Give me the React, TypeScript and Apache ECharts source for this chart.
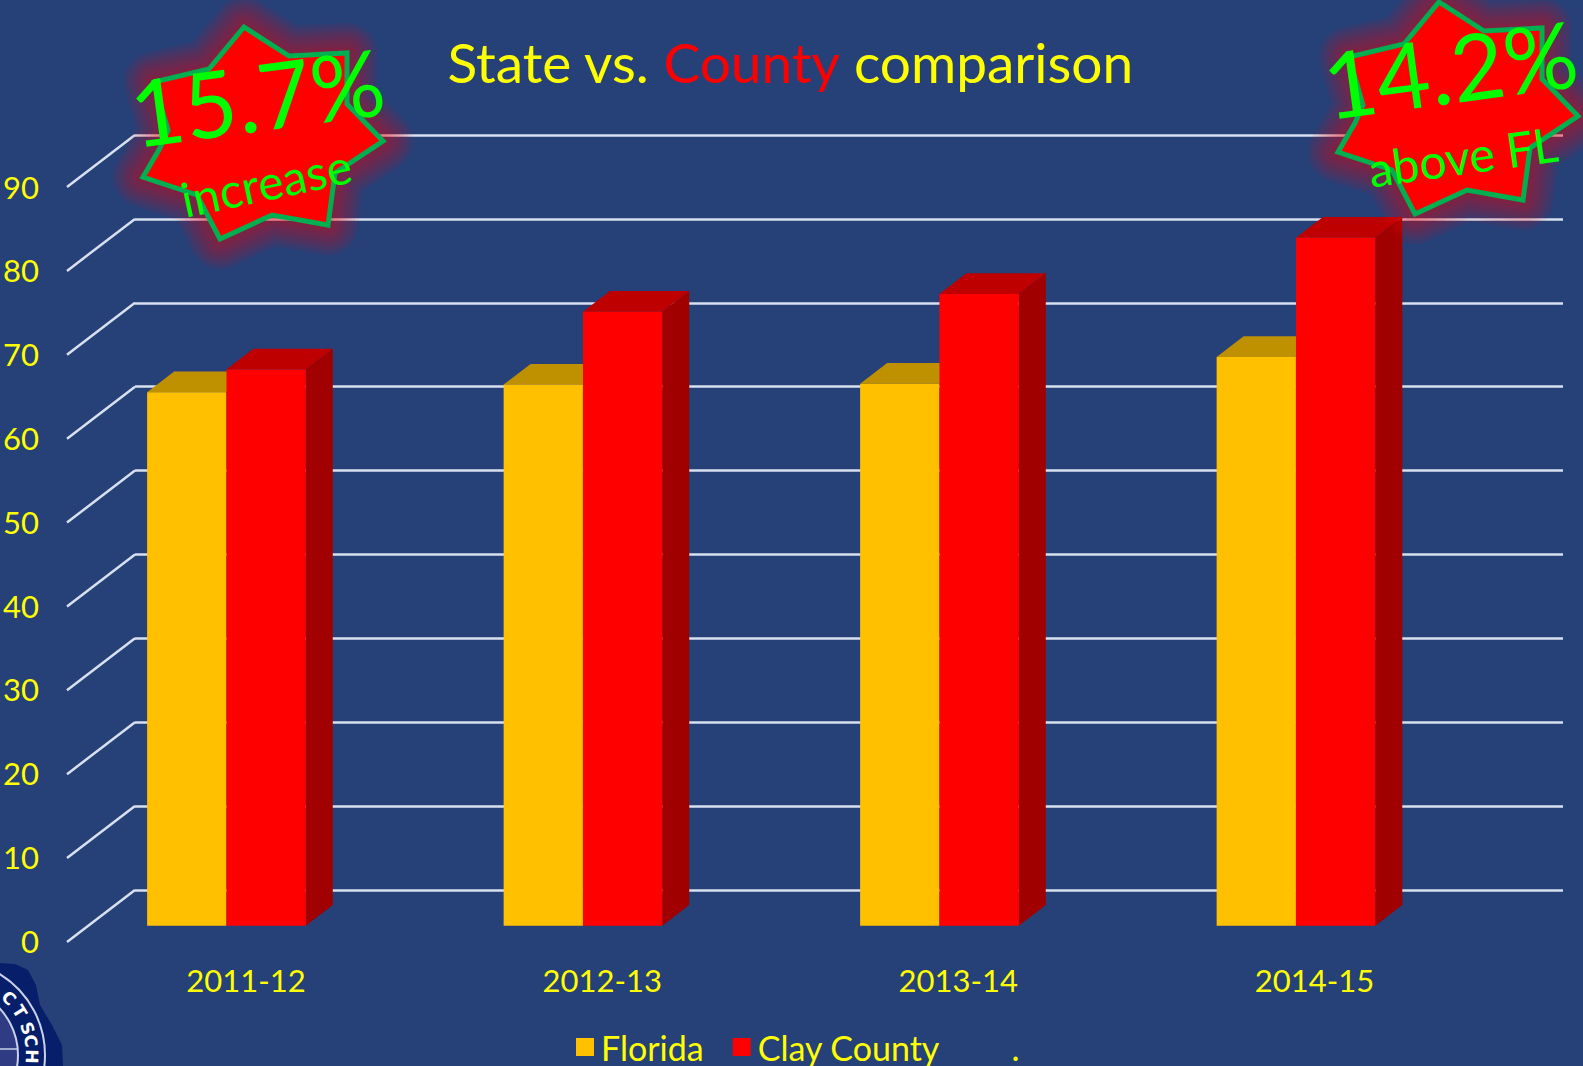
import React, { useEffect, useRef } from "react";
import * as echarts from "echarts";

const categories = ["2011-12", "2012-13", "2013-14", "2014-15"];
const floridaValues = [63.6, 64.5, 64.6, 67.8];
const clayValues = [66.3, 73.2, 75.3, 82];
const yTicks = [0, 10, 20, 30, 40, 50, 60, 70, 80, 90];
const legendNames = ["Florida", "Clay County", "  ."];

const FONT = "Lato";
const YELLOW = "#FFFF00";
const GREEN = "#00FF00";
const BG = "#264078";

const starPoints: [number, number][] = [
  [244, 27], [289, 56], [347, 53], [347, 104], [383, 141], [335, 173], [328, 225],
  [272, 215], [220, 239], [197, 195], [143, 177], [160, 148], [168, 130], [154, 82], [209, 69],
];

const glowWidths = [12, 20, 28, 36, 44, 52, 60];

const sealLetters: [string, number][] = [["C", 46], ["T", 58], ["S", 71], ["C", 80], ["H", 91]];

function star(dx: number, dy: number) {
  const glow = glowWidths
    .slice()
    .reverse()
    .map((w) => ({
      type: "polygon",
      z: 99,
      x: dx,
      y: dy,
      shape: { points: starPoints },
      style: { fill: "none", stroke: "rgba(255,0,0,0.075)", lineWidth: w, lineJoin: "round" },
    }));
  return [
    ...glow,
    {
      type: "polygon",
      z: 100,
      x: dx,
      y: dy,
      shape: { points: starPoints },
      style: { fill: "#FF0000", stroke: "#00B050", lineWidth: 5 },
    },
  ];
}

function wordArt(text: string, x: number, y: number, size: number, angle: number) {
  return {
    type: "text",
    z: 101,
    x,
    y,
    rotation: angle,
    style: { text, fontFamily: FONT, fontSize: size, fontWeight: 400, fill: GREEN, align: "center", verticalAlign: "middle" },
  };
}

function seal() {
  const cx = -50;
  const cy = 1055;
  const out: any[] = [
    {
      type: "polygon",
      shape: { points: [[0, 963], [15, 964], [28, 970], [36, 985], [40, 1005], [52, 1025], [62, 1045], [63, 1066], [0, 1066]] },
      style: { fill: "#071F6B" },
    },
    { type: "circle", shape: { cx, cy, r: 95 }, style: { fill: "#071F6B", stroke: "#C9D2E8", lineWidth: 2 } },
    { type: "circle", shape: { cx, cy, r: 68 }, style: { fill: "#2F3B82", stroke: "#C9D2E8", lineWidth: 2 } },
    { type: "line", shape: { x1: 0, y1: 1049, x2: 18, y2: 1049 }, style: { stroke: "#C9D2E8", lineWidth: 1.5 } },
  ];
  sealLetters.forEach(([ch, deg]) => {
    const t = (deg * Math.PI) / 180;
    out.push({
      type: "text",
      x: cx + 82 * Math.sin(t),
      y: cy - 82 * Math.cos(t),
      rotation: -t,
      style: { text: ch, fontFamily: "DejaVu Sans", fontWeight: "bold", fontSize: 17, fill: "#FFFFFF", align: "center", verticalAlign: "middle" },
    });
  });
  return out;
}

const DEPTH_X = 27;
const DEPTH_Y = 20.7;
const BAR_RATIO = 0.2225;

function barRenderer(side: "left" | "right", front: string, top: string, flank: string | null) {
  return (_params: any, api: any) => {
    const idx = api.value(0);
    const val = api.value(1);
    const [cx, yTop] = api.coord([idx, val]);
    const [, yBase] = api.coord([idx, 0]);
    const w = api.size([1, 0])[0] * BAR_RATIO;
    const x0 = side === "left" ? cx - w : cx;
    const x1 = x0 + w;
    const children: any[] = [
      {
        type: "polygon",
        shape: { points: [[x0, yTop], [x0 + DEPTH_X, yTop - DEPTH_Y], [x1 + DEPTH_X, yTop - DEPTH_Y], [x1, yTop]] },
        style: { fill: top },
      },
    ];
    if (flank) {
      children.push({
        type: "polygon",
        shape: { points: [[x1, yTop], [x1 + DEPTH_X, yTop - DEPTH_Y], [x1 + DEPTH_X, yBase - DEPTH_Y], [x1, yBase]] },
        style: { fill: flank },
      });
    }
    children.push({ type: "rect", shape: { x: x0, y: yTop, width: w, height: yBase - yTop }, style: { fill: front } });
    return { type: "group", children };
  };
}

export default function App() {
  const ref = useRef<HTMLDivElement>(null);
  useEffect(() => {
    const chart = echarts.init(ref.current!, undefined, { renderer: "svg" });
    const axisText = { color: YELLOW, fontFamily: FONT, fontSize: 31, fontWeight: 400 };
    chart.setOption({
      animation: false,
      backgroundColor: BG,
      title: {
        left: 785,
        top: 29,
        textAlign: "center",
        text: "{a|State vs. }{b|County}{a| comparison}",
        textStyle: {
          rich: {
            a: { color: YELLOW, fontFamily: FONT, fontSize: 55, fontWeight: 400 },
            b: { color: "#FF0000", fontFamily: FONT, fontSize: 55, fontWeight: 400 },
          },
        },
      },
      legend: {
        left: 576,
        top: 1030,
        data: legendNames,
        icon: "rect",
        itemWidth: 18,
        itemHeight: 18,
        itemGap: 29,
        padding: 0,
        textStyle: { color: YELLOW, fontFamily: FONT, fontSize: 34, fontWeight: 400, padding: [0, 0, 0, 2] },
      },
      grid: [
        { left: 135, top: 135, width: 1428, height: 755 },
        { left: 66.5, top: 186.7, width: 1426, height: 754 },
        { left: 48.2, top: 170.7, width: 1426, height: 755 },
      ],
      xAxis: [
        { gridIndex: 0, type: "value", min: 0, max: 1, show: false },
        {
          gridIndex: 1,
          type: "category",
          data: categories,
          axisLine: { show: false },
          axisTick: { show: false },
          axisLabel: { ...axisText, margin: 24 },
        },
        { gridIndex: 2, type: "category", data: categories, show: false },
      ],
      yAxis: [
        {
          gridIndex: 0,
          type: "value",
          min: 0,
          max: 90,
          interval: 10,
          axisLine: { show: false },
          axisTick: { show: false },
          axisLabel: { show: false },
          splitLine: { show: true, lineStyle: { color: "#D9E0F0", width: 2.5 } },
        },
        {
          gridIndex: 1,
          type: "value",
          min: 0,
          max: 90,
          interval: 10,
          axisLine: { show: false },
          axisTick: { show: false },
          splitLine: { show: false },
          axisLabel: { ...axisText, margin: 29 },
        },
        { gridIndex: 2, type: "value", min: 0, max: 90, interval: 10, show: false },
      ],
      series: [
        {
          name: "wall",
          type: "custom",
          xAxisIndex: 0,
          yAxisIndex: 0,
          silent: true,
          data: yTicks.map((v) => [0, v]),
          renderItem: (_p: any, api: any) => {
            const [x, y] = api.coord([0, api.value(1)]);
            return { type: "line", shape: { x1: x, y1: y, x2: x - 68, y2: y + 52 }, style: { stroke: "#D9E0F0", lineWidth: 2.5 } };
          },
        },
        {
          name: "Florida",
          type: "custom",
          xAxisIndex: 2,
          yAxisIndex: 2,
          z: 3,
          itemStyle: { color: "#FFC000" },
          data: floridaValues.map((v, i) => [i, v]),
          renderItem: barRenderer("left", "#FFC000", "#BF9000", null),
        },
        {
          name: "Clay County",
          type: "custom",
          xAxisIndex: 2,
          yAxisIndex: 2,
          z: 4,
          itemStyle: { color: "#FF0000" },
          data: clayValues.map((v, i) => [i, v]),
          renderItem: barRenderer("right", "#FF0000", "#BF0000", "#A00000"),
        },
        {
          name: "  .",
          type: "custom",
          xAxisIndex: 2,
          yAxisIndex: 2,
          itemStyle: { color: "rgba(0,0,0,0)" },
          data: [],
          renderItem: () => null,
        },
      ],
      graphic: {
        elements: [
          ...seal(),
          ...star(0, 0),
          ...star(1195, -25),
          wordArt("15.7%", 257, 96, 92, 0.133),
          wordArt("increase", 266, 182, 48, 0.21),
          wordArt("14.2%", 1450, 68, 92, 0.133),
          wordArt("above FL", 1463, 156, 48, 0.14),
        ],
      },
    });
    return () => chart.dispose();
  }, []);
  return <div ref={ref} style={{ position: "absolute", left: 0, top: 0, width: 1583, height: 1066 }} />;
}
